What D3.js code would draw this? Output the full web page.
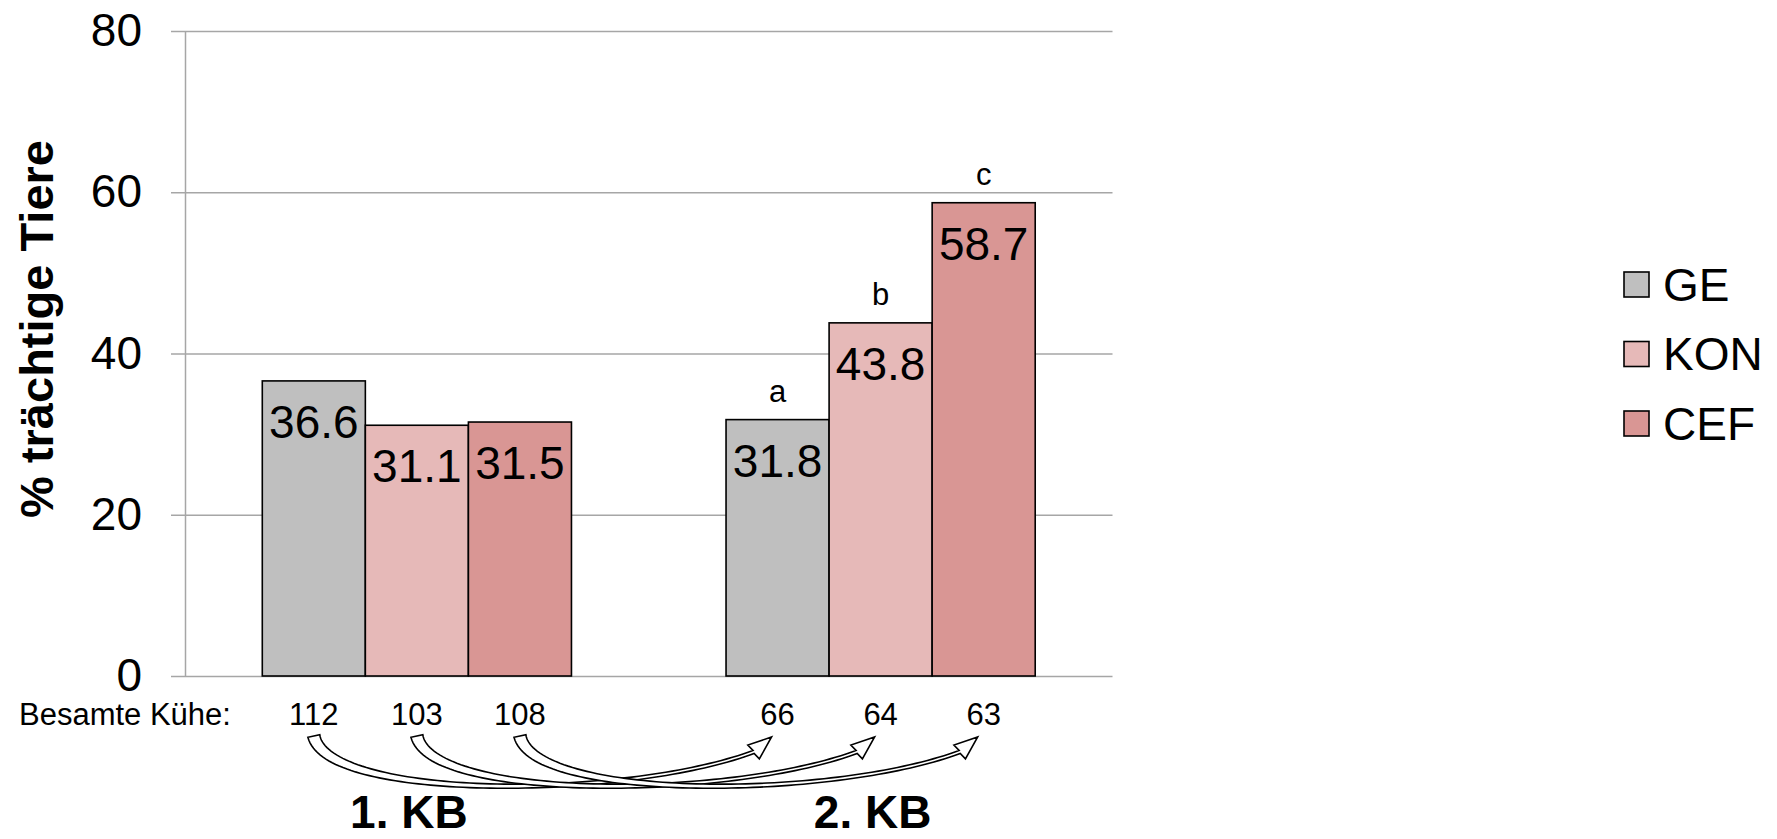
<!DOCTYPE html>
<html><head><meta charset="utf-8">
<script src="https://cdn.jsdelivr.net/npm/d3@7"></script>
<style>
body{margin:0;background:#fff}
text{font-family:"Liberation Sans",Arial,Helvetica,sans-serif;fill:#000}
</style>
</head><body>
<svg id="chart" width="1777" height="839"></svg>
<script>
// ---- data ----
const groups = ["1. KB", "2. KB"];
const series = ["GE", "KON", "CEF"];
const valuesGE  = [36.6, 31.8];
const valuesKON = [31.1, 43.8];
const valuesCEF = [31.5, 58.7];
const cowsGE  = [112, 66];
const cowsKON = [103, 64];
const cowsCEF = [108, 63];
const lettersGE  = ["", "a"];
const lettersKON = ["", "b"];
const lettersCEF = ["", "c"];
const yTicks = [0, 20, 40, 60, 80];
const colors = ["#BFBFBF", "#E6B9B8", "#D99694"];
const yTitle = "% trächtige Tiere";
const cowsLabel = "Besamte Kühe:";

(function () {
// ---- layout ----
const W = 1777, H = 839;
const pLeft = 185, pRight = 1112.5, pTop = 31, pBottom = 676;
const gridColor = "#A6A6A6";

const svg = d3.select("#chart");
svg.append("rect").attr("width", W).attr("height", H).attr("fill", "#fff");

const x0 = d3.scaleBand().domain(groups).range([pLeft, pRight]).paddingInner(1/3).paddingOuter(1/6);
const x1 = d3.scaleBand().domain(series).range([0, x0.bandwidth()]).padding(0);
const y = d3.scaleLinear().domain([0, 80]).range([pBottom, pTop]);
const color = d3.scaleOrdinal().domain(series).range(colors);

const vals = {GE: valuesGE, KON: valuesKON, CEF: valuesCEF};
const cows = {GE: cowsGE, KON: cowsKON, CEF: cowsCEF};
const letters = {GE: lettersGE, KON: lettersKON, CEF: lettersCEF};

const data = [];
groups.forEach((g, gi) => series.forEach(s => data.push({g, gi, s, v: vals[s][gi], n: cows[s][gi], l: letters[s][gi]})));
const cx = d => x0(d.g) + x1(d.s) + x1.bandwidth() / 2;

// gridlines
const grid = svg.append("g").attr("transform", `translate(${pLeft},0)`)
  .call(d3.axisLeft(y).tickValues(yTicks).tickSize(-(pRight - pLeft)).tickFormat(""));
grid.select(".domain").remove();
grid.selectAll("line").attr("stroke", gridColor).attr("stroke-width", 1.5);

// y axis with outward ticks and labels
const yAxis = svg.append("g").attr("transform", `translate(${pLeft},0)`)
  .call(d3.axisLeft(y).tickValues(yTicks).tickSize(14).tickSizeOuter(0).tickPadding(29));
yAxis.select(".domain").attr("stroke", gridColor).attr("stroke-width", 1.5);
yAxis.selectAll("line").attr("stroke", gridColor).attr("stroke-width", 1.5);
yAxis.selectAll("text").attr("font-size", 46).attr("fill", "#000")
  .style("font-family", '"Liberation Sans", Arial, sans-serif');

// bars
svg.append("g").selectAll("rect").data(data).join("rect")
  .attr("x", d => x0(d.g) + x1(d.s))
  .attr("y", d => y(d.v))
  .attr("width", x1.bandwidth())
  .attr("height", d => y(0) - y(d.v))
  .attr("fill", d => color(d.s))
  .attr("stroke", "#000").attr("stroke-width", 1.6);

// value labels
svg.append("g").selectAll("text").data(data).join("text")
  .attr("x", cx).attr("y", d => y(d.v) + 57)
  .attr("text-anchor", "middle").attr("font-size", 46)
  .text(d => d.v.toFixed(1));

// significance letters
svg.append("g").selectAll("text").data(data.filter(d => d.l)).join("text")
  .attr("x", cx).attr("y", d => y(d.v) - 18)
  .attr("text-anchor", "middle").attr("font-size", 31)
  .text(d => d.l);

// cows row
svg.append("text").attr("x", 19).attr("y", 725).attr("font-size", 31).text(cowsLabel);
svg.append("g").selectAll("text").data(data).join("text")
  .attr("x", cx).attr("y", 725).attr("text-anchor", "middle").attr("font-size", 31)
  .text(d => d.n);

// curved hollow arrows from 1. KB to 2. KB (same series)
function arrowPath(sx, sy, tx, ty) {
  const ex = tx - 18, ey = ty + 15;
  const c1 = [sx + 14, 800], c2 = [ex - 130, 800];
  const P = t => {
    const u = 1 - t;
    return [u*u*u*sx + 3*u*u*t*c1[0] + 3*u*t*t*c2[0] + t*t*t*ex,
            u*u*u*sy + 3*u*u*t*c1[1] + 3*u*t*t*c2[1] + t*t*t*ey];
  };
  const D = t => {
    const u = 1 - t;
    return [3*u*u*(c1[0]-sx) + 6*u*t*(c2[0]-c1[0]) + 3*t*t*(ex-c2[0]),
            3*u*u*(c1[1]-sy) + 6*u*t*(c2[1]-c1[1]) + 3*t*t*(ey-c2[1])];
  };
  const N = 80, A = [], B = [];
  for (let i = 0; i <= N; i++) {
    const t = i / N, p = P(t), d = D(t);
    const len = Math.hypot(d[0], d[1]) || 1;
    const nx = -d[1] / len, ny = d[0] / len;
    const w = (3.2 + 9 * Math.pow(1 - t, 3)) / 2;
    A.push([p[0] + nx * w, p[1] + ny * w]);
    B.push([p[0] - nx * w, p[1] - ny * w]);
  }
  const hx = tx - ex, hy = ty - ey, hl = Math.hypot(hx, hy);
  const ux = hx / hl, uy = hy / hl, nx = -uy, ny = ux;
  const head = [[ex + nx * 9, ey + ny * 9], [tx, ty], [ex - nx * 9, ey - ny * 9]];
  const pts = A.concat(head, B.reverse());
  return d3.line()(pts) + "Z";
}
const arrows = series.map(s => {
  const a = data.find(d => d.s === s && d.gi === 0);
  const b = data.find(d => d.s === s && d.gi === 1);
  return {s, sx: cx(a), sy: 736, tx: cx(b) - 6, ty: 737};
});
svg.append("g").selectAll("path").data(arrows).join("path")
  .attr("d", d => arrowPath(d.sx, d.sy, d.tx, d.ty))
  .attr("fill", "#fff").attr("stroke", "#000").attr("stroke-width", 1.6)
  .attr("stroke-linejoin", "miter");

// group labels
svg.append("g").selectAll("text").data(groups).join("text")
  .attr("x", g => x0(g) + x0.bandwidth() / 2 - 8)
  .attr("y", 828)
  .attr("text-anchor", "middle").attr("font-size", 46).attr("font-weight", "bold")
  .text(g => g);

// y title
svg.append("text")
  .attr("transform", "translate(53,329) rotate(-90)")
  .attr("text-anchor", "middle").attr("font-size", 47).attr("font-weight", "bold")
  .text(yTitle);

// legend
const lg = svg.append("g").selectAll("g").data(series).join("g")
  .attr("transform", (s, i) => `translate(1624,${284.5 + i * 69.5})`);
lg.append("rect").attr("x", 0).attr("y", -12.5).attr("width", 25).attr("height", 25)
  .attr("fill", s => color(s)).attr("stroke", "#000").attr("stroke-width", 1.6);
lg.append("text").attr("x", 39).attr("y", 16).attr("font-size", 46).text(s => s);
})();
</script>
</body></html>
